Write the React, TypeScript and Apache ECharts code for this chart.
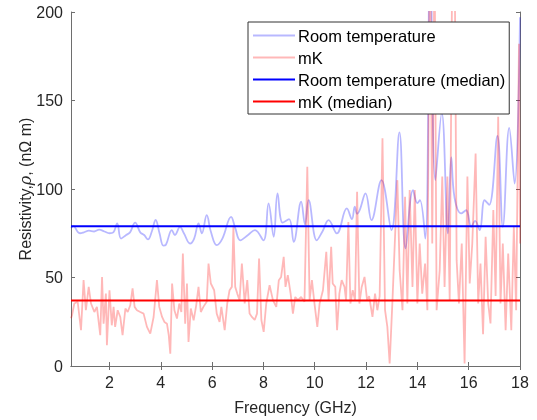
import React, { useEffect, useRef } from "react";
import * as echarts from "echarts";

// Room temperature (smoothed curve) – frequency (GHz) and resistivity (nΩ m)
const roomFreq = [
  0.5, 0.6, 0.75, 0.85, 1.0, 1.2, 1.4, 1.6, 1.8, 2.0, 2.15, 2.3, 2.45, 2.65, 2.8, 3.0, 3.2, 3.35, 3.5, 3.65, 3.8, 3.95,
  4.1, 4.2, 4.43, 4.55, 4.75, 4.9, 5.14, 5.3, 5.47, 5.6, 5.79, 5.95, 6.18, 6.4, 6.74, 6.9, 7.1, 7.4, 7.67, 8.0,
  8.2, 8.4, 8.55, 8.75, 9.0, 9.18, 9.47, 9.62, 9.76, 10.08, 10.3, 10.54, 10.86, 11.25, 11.45, 11.56, 11.65, 11.75,
  11.98, 12.21, 12.6, 12.99, 13.3, 13.54, 13.83, 14.0, 14.1, 14.31, 14.5, 14.7, 14.95, 15.19, 15.32,
  15.45, 15.71, 15.9, 16.1, 16.25, 16.43, 16.62, 16.8, 17.12, 17.33, 17.58, 17.79, 18.0,
];
const roomValues = [
  78, 79, 76, 75, 75.5, 76.5, 76, 77, 76, 75, 75.5, 80.5, 72, 74, 75.5, 81, 75.5, 74, 71.5, 76, 82.5, 75,
  68, 68.5, 76.8, 74, 78.6, 75, 69.2, 72, 80.5, 75, 85.2, 76, 68.3, 72, 84.3, 78, 71, 74, 76.8, 71,
  91.8, 73, 97.5, 81, 83, 70.1, 92.8, 80, 93.7, 71, 76, 82.4, 74.9, 89, 83, 90, 86, 88,
  97.5, 82.4, 105, 76.8, 132, 66.4, 99.4, 92, 93.7, 72, 240, 105, 143, 74.9, 118,
  95, 86.2, 88, 78.6, 82, 76.8, 93.7, 91, 130, 78.6, 134.5, 103, 197,
];

// mK (raw, noisy)
const mkFreq = [
  0.5, 0.54, 0.63, 0.76, 0.89, 0.99, 1.08, 1.19, 1.28, 1.41, 1.51, 1.64, 1.71, 1.77, 1.86, 1.9, 2.0, 2.09, 2.16,
  2.22, 2.32, 2.42, 2.51, 2.62, 2.71, 2.81, 2.9, 2.98, 3.07, 3.2, 3.33, 3.46, 3.59, 3.72, 3.85, 3.94, 4.05,
  4.14, 4.24, 4.31, 4.37, 4.44, 4.53, 4.63, 4.72, 4.8, 4.86, 4.95, 5.02, 5.08, 5.17, 5.28, 5.38, 5.47, 5.56,
  5.66, 5.79, 5.86, 5.95, 6.08, 6.18, 6.29, 6.36, 6.49, 6.59, 6.68, 6.77, 6.83, 6.9, 6.98, 7.07, 7.16, 7.27,
  7.37, 7.46, 7.55, 7.66, 7.75, 7.83, 7.92, 8.01, 8.11, 8.24, 8.37, 8.5, 8.6, 8.69, 8.79, 8.86, 8.95, 9.06,
  9.15, 9.24, 9.34, 9.47, 9.6, 9.71, 9.8, 9.89, 9.99, 10.1, 10.19, 10.32, 10.45, 10.54, 10.64, 10.7, 10.8,
  10.87, 10.96, 11.05, 11.16, 11.22, 11.31, 11.39, 11.48, 11.57, 11.65, 11.74, 11.83, 11.94, 12.04, 12.12,
  12.25, 12.35, 12.44, 12.53, 12.64, 12.74, 12.83, 12.92, 13.03, 13.13, 13.22, 13.31, 13.42, 13.52, 13.61,
  13.7, 13.81, 13.9, 14.0, 14.09, 14.19, 14.3, 14.39, 14.49, 14.58, 14.67, 14.75, 14.87, 14.97, 15.06, 15.17,
  15.26, 15.36, 15.45, 15.53, 15.62, 15.73, 15.84, 15.95, 16.04, 16.14, 16.27, 16.37, 16.46, 16.56, 16.66,
  16.76, 16.85, 16.96, 17.05, 17.15, 17.24, 17.33, 17.44, 17.54, 17.66, 17.76, 17.85, 17.96, 18.0,
];
const mkValues = [
  27, 28.7, 35.3, 36.3, 20.2, 48.5, 31.5, 44.7, 35.3, 30.5, 33.4, 17.4, 50.3, 23.9, 40.9, 11.7, 42.8, 23, 33.4,
  22.1, 31.5, 27.7, 17.4, 32.5, 30.5, 34.3, 43.8, 33.4, 31.5, 30.5, 29.6, 22.1, 18.3, 27.7, 48.5, 33.4, 27.7,
  24.9, 23.9, 17.4, 7, 46.6, 31.5, 26.8, 35.3, 30.5, 63.6, 23.9, 46.6, 13.6, 32.5, 25.8, 34.3, 44.7, 30.5,
  33.4, 36.3, 57.9, 46.6, 42.8, 29.6, 24.9, 33.4, 20.2, 35.3, 42.8, 44.7, 78.6, 44.7, 40.9, 37.2, 57.9, 35.3,
  48.5, 29.6, 27.7, 26, 29.6, 60.7, 26, 19.3, 35.3, 45.7, 37.2, 33.4, 48.5, 50.3, 61.7, 44.7, 51.3, 40.9,
  29.6, 39, 37.2, 39, 36.3, 112.6, 37.2, 48.5, 35.3, 22.1, 35.3, 42.8, 64.5, 37.2, 67.3, 46.6, 44.7,
  20.2, 40.9, 48.5, 44.7, 37.2, 81.4, 35.3, 42.8, 37.2, 98.4, 35.3, 44.7, 50.3, 37.2, 39.5,
  27.7, 40.9, 31.5, 39.5, 128.6, 31.5, 22.1, 1.4, 37.2, 73, 105, 54, 31.5, 95.6, 35.3,
  99.4, 44.7, 99.4, 35.3, 69.2, 40.9, 57.9, 31.5, 260, 69.2, 240, 31.5, 54, 107, 44.7, 107,
  37.2, 230, 240, 59.8, 35.3, 69.2, 1.4, 107, 46.6, 69.2, 120, 35.3, 57.9, 18, 73,
  35.3, 24, 88.1, 39.5, 140.8, 35.3, 69.2, 20.2, 63.6, 20.2, 78.6, 31.5, 182, 69.2,
];

const roomMedian = 79;
const mkMedian = 37;
const xTicks = [2, 4, 6, 8, 10, 12, 14, 16, 18];
const xRange = [0.5, 18];

const FONT = "'Liberation Sans', Arial, Helvetica, sans-serif";
const AXIS_COLOR = "#6e6e6e";
const LABEL_COLOR = "#262626";

export default function App() {
  const ref = useRef<HTMLDivElement>(null);

  useEffect(() => {
    if (!ref.current) return;
    const chart = echarts.init(ref.current, undefined, { renderer: "svg" });
    const roomData = roomFreq.map((f, i) => [f, roomValues[i]]);
    const mkData = mkFreq.map((f, i) => [f, mkValues[i]]);
    const roomMedData = xRange.map((f) => [f, roomMedian]);
    const mkMedData = xRange.map((f) => [f, mkMedian]);

    const axisLine = { show: true, lineStyle: { color: AXIS_COLOR, width: 1 } };
    const tick = { show: true, inside: true, length: 4, lineStyle: { color: AXIS_COLOR } };

    chart.setOption({
      animation: false,
      textStyle: { fontFamily: FONT },
      grid: { left: 71, right: 17, top: 12, bottom: 54, containLabel: false },
      legend: {
        orient: "vertical",
        left: 248,
        top: 22,
        backgroundColor: "#ffffff",
        borderColor: "#333333",
        borderWidth: 1,
        borderRadius: 0,
        padding: [5, 4, 4, 5],
        icon: "rect",
        itemWidth: 42,
        itemHeight: 2,
        itemGap: 5,
        textStyle: { fontSize: 16.5, color: "#000", fontFamily: FONT, padding: [0, 0, 0, -2] },
        data: ["Room temperature", "mK", "Room temperature (median)", "mK (median)"],
      },
      xAxis: [
        {
          type: "value",
          min: xRange[0],
          max: xRange[1],
          name: "Frequency (GHz)",
          nameLocation: "middle",
          nameGap: 33,
          nameTextStyle: { fontSize: 16, color: LABEL_COLOR, fontFamily: FONT },
          axisLine,
          axisTick: { ...tick, customValues: xTicks },
          axisLabel: { customValues: xTicks, fontSize: 16, color: LABEL_COLOR, margin: 8, fontFamily: FONT },
          splitLine: { show: false },
        },
        {
          type: "value",
          position: "top",
          min: xRange[0],
          max: xRange[1],
          axisLine,
          axisTick: { ...tick, customValues: xTicks },
          axisLabel: { show: false },
          splitLine: { show: false },
        },
      ],
      yAxis: [
        {
          type: "value",
          min: 0,
          max: 200,
          interval: 50,
          name: "Resistivity,{i|ρ}, (nΩ m)",
          nameLocation: "middle",
          nameGap: 38,
          nameMoveOverlap: false,
          nameTextStyle: {
            fontSize: 16,
            color: LABEL_COLOR,
            fontFamily: FONT,
            rich: { i: { fontStyle: "italic", fontSize: 16, color: LABEL_COLOR, fontFamily: "'DejaVu Serif', serif" } },
          },
          axisLine,
          axisTick: tick,
          axisLabel: { fontSize: 16, color: LABEL_COLOR, margin: 8, fontFamily: FONT },
          splitLine: { show: false },
        },
        {
          type: "value",
          position: "right",
          min: 0,
          max: 200,
          interval: 50,
          axisLine,
          axisTick: tick,
          axisLabel: { show: false },
          splitLine: { show: false },
        },
      ],
      series: [
        {
          name: "Room temperature",
          type: "line",
          data: roomData,
          smooth: 0.4,
          symbol: "none",
          lineStyle: { color: "rgba(0,0,255,0.28)", width: 1.8 },
          itemStyle: { color: "rgba(0,0,255,0.28)" },
          clip: true,
          z: 2,
        },
        {
          name: "mK",
          type: "line",
          data: mkData,
          symbol: "none",
          lineStyle: { color: "rgba(255,0,0,0.28)", width: 1.8 },
          itemStyle: { color: "rgba(255,0,0,0.28)" },
          clip: true,
          z: 3,
        },
        {
          name: "Room temperature (median)",
          type: "line",
          data: roomMedData,
          symbol: "none",
          lineStyle: { color: "#0000ff", width: 2 },
          itemStyle: { color: "#0000ff" },
          z: 4,
        },
        {
          name: "mK (median)",
          type: "line",
          data: mkMedData,
          symbol: "none",
          lineStyle: { color: "#ff0000", width: 2 },
          itemStyle: { color: "#ff0000" },
          z: 5,
        },
      ],
    });
    return () => chart.dispose();
  }, []);

  return <div ref={ref} style={{ position: "fixed", left: 0, top: 0, width: 537, height: 420 }} />;
}
